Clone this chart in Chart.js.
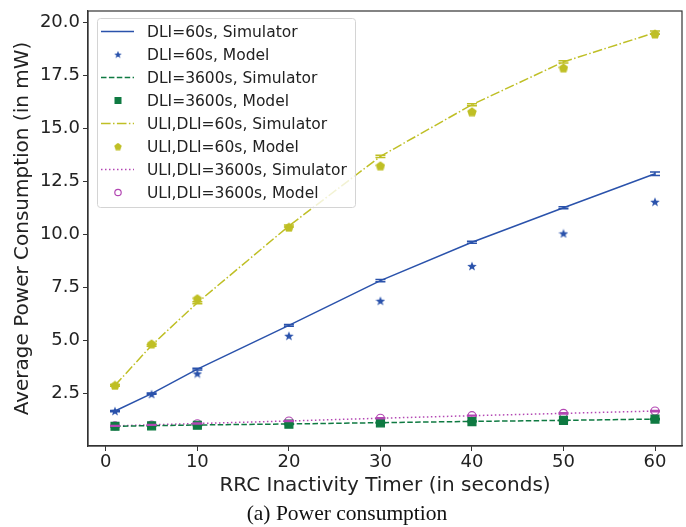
<!DOCTYPE html>
<html>
<head>
<meta charset="utf-8">
<script src="https://cdn.jsdelivr.net/npm/chart.js@4.4.1/dist/chart.umd.min.js"></script>
<style>
  body { margin: 0; background: #fff; }
  #wrap { position: relative; width: 686px; height: 527px; }
  #powerChart { position: absolute; left: 0; top: 0; }
  #caption { position: absolute; left: 0; top: 501px; width: 694px; text-align: center;
             font: 21.5px "Liberation Serif", "Times New Roman", serif; color: #111; }
</style>
</head>
<body>
<div id="wrap">
  <canvas id="powerChart" width="686" height="527"></canvas>
  <div id="caption">(a) Power consumption</div>
</div>
<script>
// RRC inactivity timer values (s)
const timers = [1, 5, 10, 20, 30, 40, 50, 60];

// average power (mW)
const dli60Sim      = [1.65, 2.47, 3.63, 5.69, 7.80, 9.61, 11.24, 12.84];
const dli60Model    = [1.65, 2.45, 3.42, 5.20, 6.85, 8.49, 10.03, 11.52];
const dli3600Sim    = [0.93, 0.96, 0.99, 1.04, 1.10, 1.16, 1.21, 1.27];
const dli3600Model  = [0.93, 0.95, 0.98, 1.03, 1.09, 1.15, 1.21, 1.27];
const uli60Sim      = [2.86, 4.75, 6.76, 10.38, 13.66, 16.10, 18.12, 19.50];
const uli60Model    = [2.86, 4.82, 6.95, 10.32, 13.22, 15.77, 17.84, 19.44];
const uli3600Sim    = [0.95, 1.00, 1.06, 1.18, 1.31, 1.43, 1.54, 1.65];
const uli3600Model  = [0.95, 0.99, 1.05, 1.18, 1.31, 1.43, 1.54, 1.65];

// simulator error (half width, mW)
const dli60Err   = [0.03, 0.03, 0.04, 0.04, 0.05, 0.05, 0.05, 0.08];
const dli3600Err = [0.02, 0.02, 0.02, 0.02, 0.02, 0.02, 0.02, 0.03];
const uli60Err   = [0.04, 0.04, 0.05, 0.05, 0.05, 0.05, 0.05, 0.08];
const uli3600Err = [0.02, 0.02, 0.02, 0.02, 0.02, 0.02, 0.03, 0.03];

const xTicks = [0, 10, 20, 30, 40, 50, 60];
const yTicks = [2.5, 5.0, 7.5, 10.0, 12.5, 15.0, 17.5, 20.0];

const BLUE = '#2a52ab', GREEN = '#0f7a42', OLIVE = '#bfbf25', PURPLE = '#b347b3';

function pts(ys) { return timers.map((t, i) => ({ x: t, y: ys[i] })); }

// filled polygon markers (star, pentagon) as little canvases
function polyMarker(color, size, spikes, innerRatio) {
  const c = document.createElement('canvas');
  c.width = c.height = size;
  const g = c.getContext('2d');
  const r = size / 2, cx = r, cy = r;
  const n = innerRatio ? spikes * 2 : spikes;
  g.beginPath();
  for (let i = 0; i < n; i++) {
    const rad = (innerRatio && i % 2) ? r * innerRatio : r;
    const a = -Math.PI / 2 + i * 2 * Math.PI / n;
    const px = cx + rad * Math.cos(a), py = cy + rad * Math.sin(a) + (spikes === 5 ? r * 0.1 : 0);
    i ? g.lineTo(px, py) : g.moveTo(px, py);
  }
  g.closePath();
  g.fillStyle = color;
  g.fill();
  return c;
}
const starImg = polyMarker(BLUE, 10, 5, 0.42);
const pentImg = polyMarker(OLIVE, 10, 5, 0);

const simLine = (label, ys, color, dash, err) => ({
  label, data: pts(ys), borderColor: color, backgroundColor: color, borderWidth: 1.5,
  borderDash: dash, pointRadius: 0, showLine: true, tension: 0, errors: err
});
const modelPts = (label, ys, color, style, radius, fill) => ({
  label, data: pts(ys), borderColor: color, backgroundColor: fill, showLine: false,
  pointStyle: style, pointRadius: radius, borderWidth: 1.2
});

const datasets = [
  simLine('DLI=60s, Simulator', dli60Sim, BLUE, [], dli60Err),
  modelPts('DLI=60s, Model', dli60Model, BLUE, starImg, 5, BLUE),
  simLine('DLI=3600s, Simulator', dli3600Sim, GREEN, [5.5, 2.4], dli3600Err),
  modelPts('DLI=3600s, Model', dli3600Model, GREEN, 'rect', 5.6, GREEN),
  simLine('ULI,DLI=60s, Simulator', uli60Sim, OLIVE, [9.6, 2.4, 1.5, 2.4], uli60Err),
  modelPts('ULI,DLI=60s, Model', uli60Model, OLIVE, pentImg, 5, OLIVE),
  simLine('ULI,DLI=3600s, Simulator', uli3600Sim, PURPLE, [1.5, 2.5], uli3600Err),
  modelPts('ULI,DLI=3600s, Model', uli3600Model, PURPLE, 'circle', 4, 'rgba(0,0,0,0)')
];

// vertical error bars with caps for the simulator lines
const errorBars = {
  id: 'errorBars',
  afterDatasetsDraw(chart) {
    const { ctx, scales: { x, y } } = chart;
    ctx.save();
    chart.data.datasets.forEach(ds => {
      if (!ds.errors) return;
      ctx.strokeStyle = ds.borderColor;
      ctx.lineWidth = 1.5;
      ds.data.forEach((p, i) => {
        const px = x.getPixelForValue(p.x);
        const top = y.getPixelForValue(p.y + ds.errors[i]);
        const bot = y.getPixelForValue(p.y - ds.errors[i]);
        ctx.beginPath();
        ctx.moveTo(px, top); ctx.lineTo(px, bot);
        ctx.moveTo(px - 5, top); ctx.lineTo(px + 5, top);
        ctx.moveTo(px - 5, bot); ctx.lineTo(px + 5, bot);
        ctx.stroke();
      });
    });
    ctx.restore();
  }
};

// axes frame + legend box in the upper left corner
const frameAndLegend = {
  id: 'frameAndLegend',
  afterDraw(chart) {
    const { ctx, chartArea: a } = chart;
    ctx.save();
    ctx.strokeStyle = '#333';
    ctx.lineWidth = 1.2;
    ctx.strokeRect(a.left, a.top, a.right - a.left, a.bottom - a.top);

    const bx = 97.5, by = 18.5, bw = 258, bh = 189, rowH = 23;
    ctx.beginPath();
    ctx.roundRect(bx, by, bw, bh, 3);
    ctx.fillStyle = 'rgba(255,255,255,0.8)';
    ctx.fill();
    ctx.strokeStyle = '#d4d4d4';
    ctx.lineWidth = 1;
    ctx.stroke();

    ctx.font = '15.5px "DejaVu Sans"';
    ctx.textBaseline = 'middle';
    chart.data.datasets.forEach((ds, i) => {
      const cy = 31.5 + i * rowH;
      if (ds.showLine) {
        ctx.strokeStyle = ds.borderColor;
        ctx.lineWidth = 1.5;
        ctx.setLineDash(ds.borderDash);
        ctx.beginPath();
        ctx.moveTo(101, cy); ctx.lineTo(134, cy);
        ctx.stroke();
        ctx.setLineDash([]);
      } else if (ds.pointStyle instanceof HTMLCanvasElement) {
        ctx.drawImage(ds.pointStyle, 118 - 4, cy - 4, 8, 8);
      } else if (ds.pointStyle === 'rect') {
        ctx.fillStyle = ds.backgroundColor;
        ctx.fillRect(114.5, cy - 3.5, 7, 7);
      } else {
        ctx.strokeStyle = ds.borderColor;
        ctx.lineWidth = 1.2;
        ctx.beginPath();
        ctx.arc(118, cy, 3.2, 0, Math.PI * 2);
        ctx.stroke();
      }
      ctx.fillStyle = '#222';
      ctx.fillText(ds.label, 147, cy + 1);
    });
    ctx.restore();
  }
};

const tickFont = { family: 'DejaVu Sans', size: 18 };
const titleFont = { family: 'DejaVu Sans', size: 20 };

new Chart(document.getElementById('powerChart'), {
  type: 'line',
  data: { datasets },
  options: {
    responsive: false,
    animation: false,
    events: [],
    layout: { autoPadding: false, padding: { top: 11, right: 4, left: 0, bottom: 27 } },
    plugins: { legend: { display: false }, tooltip: { enabled: false } },
    scales: {
      x: {
        type: 'linear', min: -1.95, max: 62.95,
        afterBuildTicks: s => { s.ticks = xTicks.map(v => ({ value: v })); },
        afterFit: s => { s.height = 54; s.paddingLeft = 0; s.paddingRight = 0; },
        grid: { drawOnChartArea: false, drawTicks: true, tickLength: 5, color: '#333' },
        border: { display: true, color: '#333', width: 1.2 },
        ticks: { font: tickFont, color: '#222', padding: 1, maxRotation: 0, callback: v => String(v) },
        title: { display: true, text: 'RRC Inactivity Timer (in seconds)', font: titleFont, color: '#222', padding: { top: 0, bottom: 2 } }
      },
      y: {
        type: 'linear', min: 0.0, max: 20.52,
        afterBuildTicks: s => { s.ticks = yTicks.map(v => ({ value: v })); },
        afterFit: s => { s.width = 88; s.paddingTop = 0; s.paddingBottom = 0; },
        grid: { drawOnChartArea: false, drawTicks: true, tickLength: 5, color: '#333' },
        border: { display: true, color: '#333', width: 1.2 },
        ticks: { font: tickFont, color: '#222', padding: 3, callback: v => Number(v).toFixed(1) },
        title: { display: true, text: 'Average Power Consumption (in mW)', font: titleFont, color: '#222', padding: { top: 11, bottom: 0 } }
      }
    }
  },
  plugins: [errorBars, frameAndLegend]
});
</script>
</body>
</html>
